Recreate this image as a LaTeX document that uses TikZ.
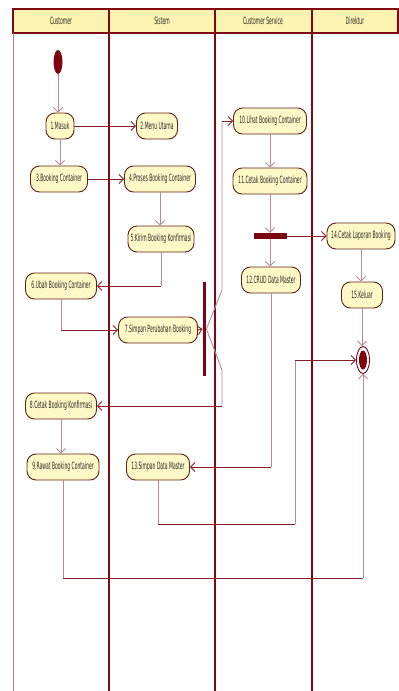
\documentclass[tikz,border=0pt]{standalone}
\usepackage{fontspec}
\newfontfamily\cond[FakeStretch=0.45]{DejaVu Sans}
\usetikzlibrary{arrows.meta,shapes.geometric}
\definecolor{lane}{RGB}{128,10,20}
\definecolor{laneleft}{RGB}{170,130,140}
\definecolor{hdrfill}{RGB}{253,244,178}
\definecolor{actfill}{RGB}{255,249,200}
\definecolor{actdraw}{RGB}{95,35,20}
\definecolor{fdark}{RGB}{135,30,40}
\definecolor{flight}{RGB}{180,140,150}
\definecolor{dotred}{RGB}{125,5,15}
\begin{document}
\begin{tikzpicture}[x=1pt,y=-1pt,
  act/.style={draw=actdraw,line width=0.9pt,fill=actfill,rounded corners=9pt,
    minimum height=26pt,inner sep=1pt,font=\cond\fontsize{10}{11}\selectfont,text=black!85},
  hdr/.style={font=\cond\fontsize{10}{11}\selectfont,text=black!85},
  fh/.style={draw=fdark,line width=0.9pt},
  fv/.style={draw=flight,line width=0.9pt},
  tip/.style={-{Straight Barb[length=4.5pt,width=9pt]}},
  lanel/.style={draw=lane,line width=1.6pt},
  barnode/.style={fill=dotred,draw=none,inner sep=0pt}]
\useasboundingbox (0,0) rectangle (399,691);
% header and lanes
\fill[hdrfill] (13,9) rectangle (398,33);
\draw[lane,line width=1.3pt] (13,9) rectangle (398,33);
\draw[laneleft,line width=1pt] (13,33) -- (13,691);
\foreach \x in {109,215,312} \draw[lanel] (\x,9) -- (\x,691);
\node[hdr] (h1) at (61,21) {Customer};
\node[hdr] (h2) at (162,21) {Sistem};
\node[hdr] (h3) at (263,21) {Customer Service};
\node[hdr] (h4) at (355,21) {Direktur};
% nodes
\node[ellipse,fill=dotred,minimum width=9pt,minimum height=24pt,inner sep=0pt] (init) at (58,62) {};
\node[act,minimum width=28pt] (m1) at (60,126) {1.Masuk};
\node[act,minimum width=41pt] (m2) at (157,126) {2.Menu Utama};
\node[act,minimum width=57pt] (m3) at (59,179) {3.Booking Container};
\node[act,minimum width=71pt] (m4) at (160,179) {4.Proses Booking Container};
\node[act,minimum width=66pt] (m5) at (161,239) {5.Kirim Booking Konfirmasi};
\node[act,minimum width=71pt] (m6) at (61,286) {6.Ubah Booking Container};
\node[act,minimum width=79pt] (m7) at (158,330) {7.Simpan Perubahan Booking};
\node[act,minimum width=71pt] (m8) at (61,406) {8.Cetak Booking Konfirmasi};
\node[act,minimum width=72pt] (m9) at (63,467) {9.Rawat Booking Container};
\node[act,minimum width=73pt] (m10) at (270,121) {10.Lihat Booking Container};
\node[act,minimum width=74pt] (m11) at (270,181) {11.Cetak Booking Container};
\node[act,minimum width=59pt] (m12) at (271,280) {12.CRUD Data Master};
\node[act,minimum width=63pt] (m13) at (158,467) {13.Simpan Data Master};
\node[act,minimum width=68pt] (m14) at (361,236) {14.Cetak Laporan Booking};
\node[act,minimum width=41pt] (m15) at (362,295) {15.Keluar};
\node[barnode,minimum width=33pt,minimum height=6pt] (sync) at (270,236) {};
\node[barnode,minimum width=3.5pt,minimum height=94pt] (fork) at (204.5,329) {};
\node[ellipse,draw=dotred,fill=white,line width=0.9pt,minimum width=13pt,minimum height=27pt,inner sep=0pt] (fin) at (363,360) {};
\node[ellipse,fill=dotred,minimum width=8pt,minimum height=19pt,inner sep=0pt] (fincore) at (fin.center) {};
% connectors
\draw[fv,tip] (init) -- (init |- m1.north);
\draw[fh,tip] (m1.east) -- (m2.west);
\draw[fv,tip] (m1.south) -- (m1.south |- m3.north);
\draw[fh,tip] (m3.east) -- (m4.west);
\draw[fv,tip] (m4.south) -- (m4.south |- m5.north);
\coordinate (k5) at (m5.south |- m6.east);
\draw[fv] (m5.south) -- (k5);
\draw[fh,tip] (k5) -- (m6.east);
\coordinate (k6) at (m6.south |- m7.west);
\draw[fv] (m6.south) -- (k6);
\draw[fh,tip] (k6) -- (m7.west);
\draw[fh,tip] (m7.east) -- (fork.west);
\coordinate (f1) at (222,290);
\coordinate (f2) at (f1 |- m10.west);
\draw[fv] (fork.east) -- (f1) -- (f2);
\draw[fh,tip] (f2) -- (m10.west);
\coordinate (g1) at (222,370);
\coordinate (g2) at (g1 |- m8.east);
\draw[fv] (fork.east) -- (g1) -- (g2);
\draw[fh,tip] (g2) -- (m8.east);
\draw[fv,tip] (m8.south) -- (m8.south |- m9.north);
\draw[fv,tip] (m10.south) -- (m10.south |- m11.north);
\draw[fv,tip] (m11.south) -- (m11.south |- sync.north);
\draw[fv,tip] (sync.south) -- (sync.south |- m12.north);
\draw[fh,tip] (sync.east) -- (m14.west);
\draw[fv,tip] (m14.south) -- (m14.south |- m15.north);
\draw[fv,tip] (m15.south) -- (m15.south |- fin.north);
\coordinate (k12) at (m12.south |- m13.east);
\draw[fv] (m12.south) -- (k12);
\draw[fh,tip] (k12) -- (m13.east);
\coordinate (p1) at (m13.south |- 0,524);
\coordinate (p2) at (295,524);
\coordinate (p3) at (p2 |- fin.west);
\draw[fv] (m13.south) -- (p1);
\draw[fh] (p1) -- (p2);
\draw[fv] (p2) -- (p3);
\draw[fh,tip] (p3) -- (fin.west);
\coordinate (q1) at (m9.south |- 0,578);
\coordinate (q2) at (fin.south |- 0,578);
\draw[fv] (m9.south) -- (q1);
\draw[fh] (q1) -- (q2);
\draw[fv,tip] (q2) -- (fin.south);
\end{tikzpicture}
\end{document}
